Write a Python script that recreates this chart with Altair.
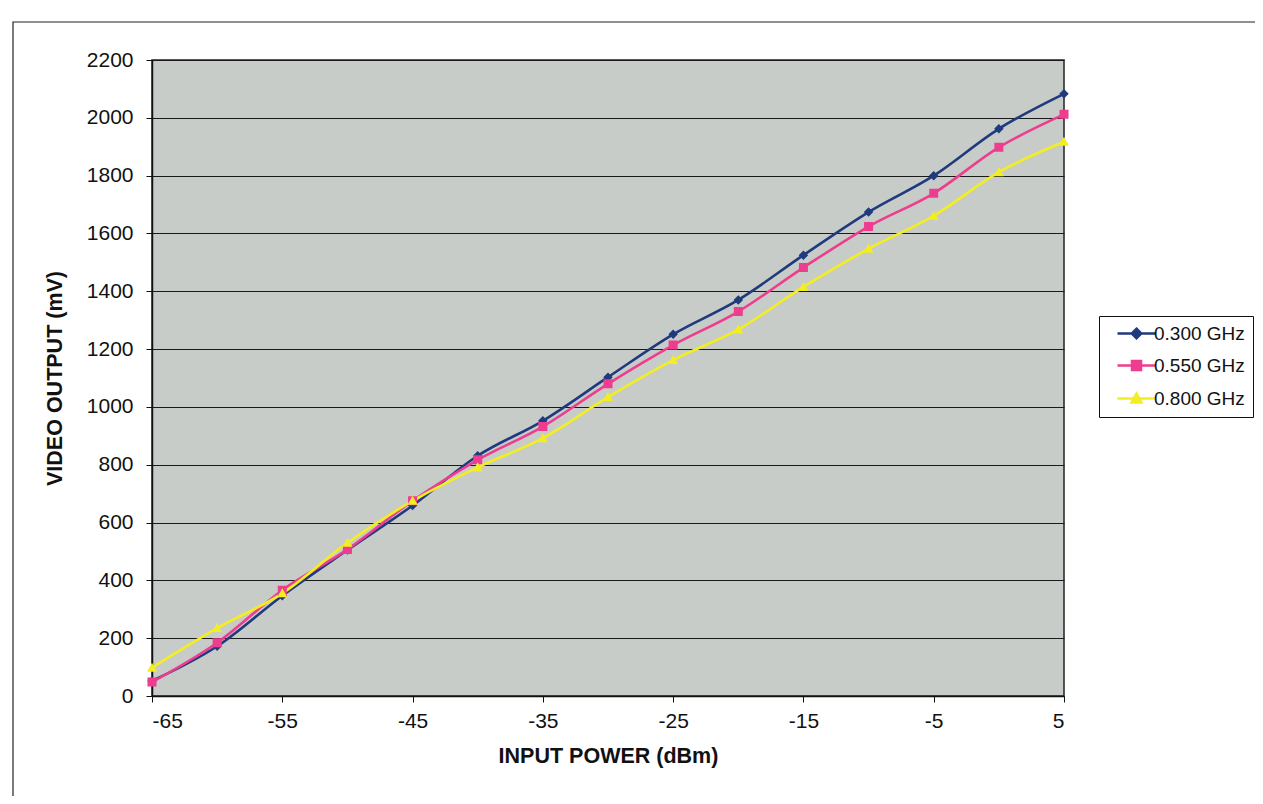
import altair as alt
import pandas as pd

# ---- data ----
power = [-65, -60, -55, -50, -45, -40, -35, -30, -25, -20, -15, -10, -5, 0, 5]
series_names = ["0.300 GHz", "0.550 GHz", "0.800 GHz"]
v300 = [52, 172, 347, 505, 659, 831, 952, 1103, 1251, 1370, 1525, 1674, 1800, 1962, 2083]
v550 = [48, 184, 366, 507, 675, 817, 932, 1080, 1214, 1330, 1482, 1624, 1739, 1898, 2012]
v800 = [98, 235, 355, 530, 675, 791, 892, 1034, 1162, 1268, 1415, 1547, 1661, 1812, 1917]
x_ticks = [-65, -55, -45, -35, -25, -15, -5, 5]
y_ticks = list(range(0, 2201, 200))

# ---- styles ----
colors = ["#1f3a7d", "#ee3d8f", "#f2ee22"]
# marker paths with a zero-area line segment (only visible when stroked, i.e. in the legend)
marker_paths = [
    "M-3.8,0L3.8,0M0,-0.95L0.95,0L0,0.95L-0.95,0Z",
    "M-3.8,0L3.8,0M-0.9,-0.9L0.9,-0.9L0.9,0.9L-0.9,0.9Z",
    "M-3.8,0L3.8,0M0,-1L1,0.8L-1,0.8Z",
]

rows = []
for name, vals in zip(series_names, [v300, v550, v800]):
    for p, v in zip(power, vals):
        rows.append({"power": p, "mV": v, "series": name})
df = pd.DataFrame(rows)

FONT = "Liberation Sans"

x_enc = alt.X(
    "power:Q",
    scale=alt.Scale(domain=[-65, 5], nice=False, zero=False),
    axis=alt.Axis(
        values=x_ticks, labelExpr="'' + datum.value", grid=False,
        title="INPUT POWER (dBm)",
        labelFontSize=21, labelPadding=8, tickSize=6, titleFontSize=21.5,
        titlePadding=14, titleFontWeight="bold",
    ),
)
y_enc = alt.Y(
    "mV:Q",
    scale=alt.Scale(domain=[0, 2200], nice=False),
    axis=alt.Axis(
        values=y_ticks, labelExpr="'' + datum.value", grid=True,
        title="VIDEO OUTPUT (mV)",
        labelFontSize=21, labelPadding=13, tickSize=6, titleFontSize=21.5,
        titlePadding=20, titleFontWeight="bold",
    ),
)

legend = alt.Legend(
    title=None, orient="none", legendX=947, legendY=256,
    strokeColor="#111", fillColor="white", padding=8,
    labelFontSize=19, labelFont=FONT, labelColor="#111",
    symbolSize=100, symbolStrokeWidth=2.5, symbolOffset=20, labelOffset=8,
    rowPadding=12,
)

col_scale = alt.Scale(domain=series_names, range=colors)

frame = alt.Chart(pd.DataFrame({"k": [0]})).mark_rect(
    fill="transparent", stroke="#222", strokeWidth=1.2
).encode(
    x=alt.value(-139), x2=alt.value(1130), y=alt.value(-38), y2=alt.value(760)
)

line_layers = [
    alt.Chart(df).transform_filter(alt.datum.series == name)
    .mark_line(strokeWidth=2.6, interpolate="monotone", color=c)
    .encode(x=x_enc, y=y_enc)
    for name, c in zip(series_names, colors)
]

points = alt.Chart(df).mark_point(filled=True, size=100, opacity=1).encode(
    x=x_enc, y=y_enc,
    color=alt.Color("series:N", scale=col_scale, legend=legend),
    stroke=alt.Stroke("series:N", scale=col_scale, legend=legend),
    shape=alt.Shape("series:N", scale=alt.Scale(domain=series_names, range=marker_paths), legend=legend),
    strokeWidth=alt.value(0),
)

chart = alt.layer(frame, *line_layers, points).properties(
    width=912, height=636,
    autosize=alt.AutoSizeParams(type="none"),
    padding={"left": 144, "top": 52, "right": 191, "bottom": 100},
    background="white",
).configure_view(
    fill="#c8ccc8", stroke="#222", strokeWidth=1.5
).configure_axis(
    labelFont=FONT, titleFont=FONT, labelColor="#111", titleColor="#111",
    domainColor="#111", tickColor="#111", gridColor="#1a1a1a", gridWidth=1,
    domainWidth=1.5,
)

chart.save("out.html", embed_options={"renderer": "svg", "actions": False})
